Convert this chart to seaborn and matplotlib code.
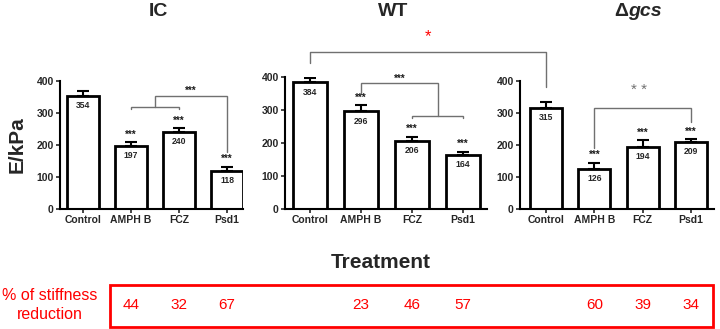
import numpy as np
import pandas as pd
import matplotlib
matplotlib.use('Agg')
import matplotlib.pyplot as plt
import matplotlib.transforms as mtransforms
from matplotlib.lines import Line2D
from matplotlib.patches import Rectangle
import seaborn as sns

# -------------------------
# Data
# -------------------------
treatments = ['Control', 'AMPH B', 'FCZ', 'Psd1']

ic_mean = [354, 197, 240, 118]
ic_err = [15, 11, 12, 14]

wt_mean = [384, 296, 206, 164]
wt_err = [14, 18, 12, 10]

gcs_mean = [315, 126, 194, 209]
gcs_err = [20, 19, 21, 9]

stars = ['', '***', '***', '***']

ic_reduction = [44, 32, 67]
wt_reduction = [23, 46, 57]
gcs_reduction = [60, 39, 34]

# -------------------------
# Figure setup
# -------------------------
sns.set_style('white')
plt.rcParams['font.family'] = ['Liberation Sans', 'DejaVu Sans']

W, H = 720, 329
fig = plt.figure(figsize=(W / 100, H / 100), dpi=100)


def px_axes(left, right, bottom, top):
    return fig.add_axes([left / W, 1 - bottom / H, (right - left) / W, (bottom - top) / H])


def fx(x):
    return x / W


def fy(y):
    return 1 - y / H


GRAY = '#707070'
STAR = dict(fontsize=7, fontweight='bold', color='#1a1a1a')


def draw_panel(ax, means, errs, xlim):
    df = pd.DataFrame({'treatment': treatments, 'E': means})
    sns.barplot(data=df, x='treatment', y='E', ax=ax, color='white',
                edgecolor='black', linewidth=2, width=0.66, errorbar=None,
                saturation=1)
    xs = np.arange(len(means))
    ax.errorbar(xs, means, yerr=[np.zeros(len(errs)), errs], fmt='none',
                ecolor='black', elinewidth=1.5, capsize=4.5, capthick=1.5,
                zorder=1)
    ax.set_ylim(0, 400)
    ax.set_xlim(*xlim)
    ax.set_yticks([0, 100, 200, 300, 400])
    ax.set_xlabel('')
    ax.set_ylabel('')
    sns.despine(ax=ax)
    for s in ['left', 'bottom']:
        ax.spines[s].set_linewidth(1.5)
        ax.spines[s].set_color('black')
    ax.tick_params(axis='both', length=3, width=1.2, pad=1.5, direction='out',
                   bottom=True, left=True)
    for lab in ax.get_xticklabels() + ax.get_yticklabels():
        lab.set_fontweight('bold')
        lab.set_fontsize(7.5)
    for x, m, e, s in zip(xs, means, errs, stars):
        ax.annotate(str(m), (x, m), xytext=(0, -7), textcoords='offset points',
                    ha='center', va='center', fontsize=6.2, fontweight='bold')
        if s:
            ax.annotate(s, (x, m + e), xytext=(0, 2), textcoords='offset points',
                        ha='center', va='bottom', **STAR)


def bracket(ax, pts):
    xs, ys = zip(*pts)
    ax.plot(xs, ys, color=GRAY, lw=1, clip_on=False, solid_joinstyle='miter')


ax1 = px_axes(60, 243, 209, 81)
draw_panel(ax1, ic_mean, ic_err, (-0.48, 3.33))
ax2 = px_axes(285, 487, 209, 77)
draw_panel(ax2, wt_mean, wt_err, (-0.49, 3.47))
ax3 = px_axes(520, 714, 209, 81)
draw_panel(ax3, gcs_mean, gcs_err, (-0.54, 3.48))

# IC brackets
bracket(ax1, [(1, 311), (1, 319), (2, 319), (2, 311)])
bracket(ax1, [(1.5, 319), (1.5, 353), (3, 353), (3, 178)])
ax1.text(2.25, 368, '***', ha='center', va='center', **STAR)

# WT brackets
bracket(ax2, [(2, 275), (2, 282), (3, 282), (3, 275)])
bracket(ax2, [(2.5, 282), (2.5, 382), (1, 382), (1, 348)])
ax2.text(1.76, 393, '***', ha='center', va='center', **STAR)

# Δgcs bracket
bracket(ax3, [(1, 191), (1, 316), (3, 316), (3, 272)])
ax3.text(1.92, 372, '* *', ha='center', va='center', fontsize=11, color=GRAY)

# WT control vs Δgcs control bracket (spans two panels)
inv = fig.transFigure.inverted()
p1 = inv.transform(ax2.transData.transform((0, 442)))
p2 = inv.transform(ax2.transData.transform((0, 476)))
p4 = inv.transform(ax3.transData.transform((0, 381)))
p3 = (p4[0], p2[1])
fig.add_artist(Line2D([p1[0], p2[0], p3[0], p4[0]], [p1[1], p2[1], p3[1], p4[1]],
                      color=GRAY, lw=1, transform=fig.transFigure))
fig.text((p2[0] + p3[0]) / 2, fy(37), '*', ha='center', va='center',
         fontsize=12, color='red')

# Titles
fig.text(fx(158), fy(11), 'IC', ha='center', va='center', fontsize=14, fontweight='bold')
fig.text(fx(393), fy(11), 'WT', ha='center', va='center', fontsize=14, fontweight='bold')
fig.text(fx(628), fy(11), 'Δ', ha='right', va='center', fontsize=14, fontweight='bold')
fig.text(fx(628), fy(11), 'gcs', ha='left', va='center', fontsize=14,
         fontweight='bold', style='italic')

# Axis labels
fig.text(fx(17), fy(145), 'E/kPa', rotation=90, ha='center', va='center',
         fontsize=15, fontweight='bold')
fig.text(fx(381), fy(262), 'Treatment', ha='center', va='center',
         fontsize=15, fontweight='bold')

# Stiffness reduction row
fig.add_artist(Rectangle((fx(110), fy(327)), fx(713 - 110), (327 - 285) / H,
                         fill=False, edgecolor='red', lw=2,
                         transform=fig.transFigure))
fig.text(fx(50), fy(305), '% of stiffness\nreduction', ha='center', va='center',
         fontsize=11.5, color='red', linespacing=1.3)
for ax, vals in [(ax1, ic_reduction), (ax2, wt_reduction), (ax3, gcs_reduction)]:
    tr = mtransforms.blended_transform_factory(ax.transData, fig.transFigure)
    for x, v in zip([1, 2, 3], vals):
        ax.text(x, fy(305), str(v), transform=tr, ha='center', va='center',
                fontsize=11, color='red', clip_on=False)

fig.savefig('out.png', dpi=100)
